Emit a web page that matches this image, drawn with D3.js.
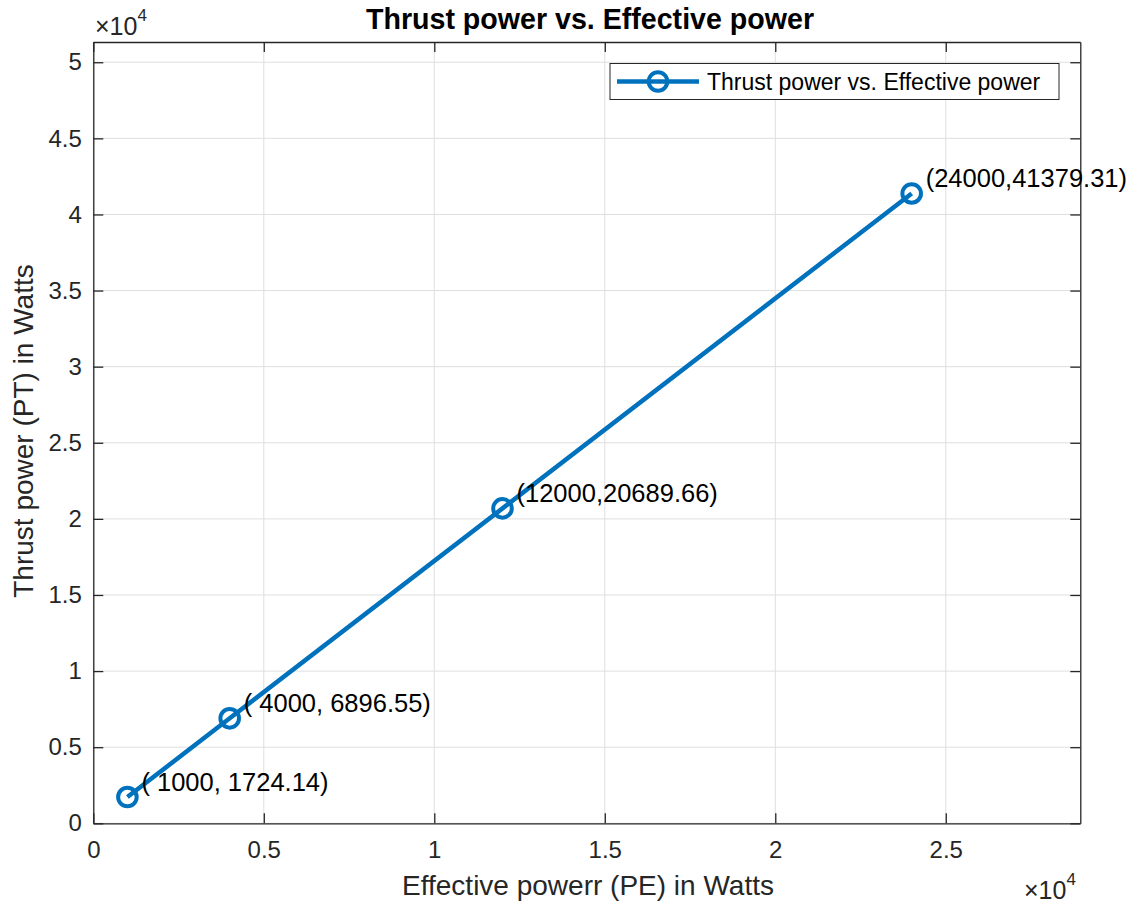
<!DOCTYPE html>
<html><head><meta charset="utf-8">
<script src="https://cdn.jsdelivr.net/npm/d3@7"></script>
<style>body{margin:0;background:#fff}svg{font-family:"Liberation Sans",Arial,sans-serif}</style>
</head><body><svg id="c" width="1132" height="903"></svg>
<script>
const xVals = [1000, 4000, 12000, 24000];
const yVals = [1724.14, 6896.55, 20689.66, 41379.31];
const pointLabels = ["( 1000, 1724.14)", "( 4000, 6896.55)", "(12000,20689.66)", "(24000,41379.31)"];
const xTicks = [0, 5000, 10000, 15000, 20000, 25000];
const yTicks = [0, 5000, 10000, 15000, 20000, 25000, 30000, 35000, 40000, 45000, 50000];
const title = "Thrust power vs. Effective power";
const xLabel = "Effective powerr (PE) in Watts";
const yLabel = "Thrust power (PT) in Watts";
const legendLabel = "Thrust power vs. Effective power";

const L = 93.3, R = 1080.3, T = 42, B = 823.3;
const x = d3.scaleLinear().domain([0, 28945]).range([L, R]);
const y = d3.scaleLinear().domain([0, 51330]).range([B, T]);
const svg = d3.select("#c");
const ax = "#262626", blue = "#0072BD";

// grid
svg.append("g").selectAll("line").data(xTicks).join("line")
  .attr("x1", d => x(d)).attr("x2", d => x(d)).attr("y1", T).attr("y2", B)
  .attr("stroke", "#dfdfdf").attr("stroke-width", 1);
svg.append("g").selectAll("line").data(yTicks).join("line")
  .attr("y1", d => y(d)).attr("y2", d => y(d)).attr("x1", L).attr("x2", R)
  .attr("stroke", "#dfdfdf").attr("stroke-width", 1);

const fmt = d => d3.format("")(d / 10000);
// axes
const xAxis = d3.axisBottom(x).tickValues(xTicks).tickFormat(fmt).tickSizeInner(-10).tickSizeOuter(0).tickPadding(17.5);
const yAxis = d3.axisLeft(y).tickValues(yTicks).tickFormat(fmt).tickSizeInner(-10).tickSizeOuter(0).tickPadding(11.5);
const gx = svg.append("g").attr("transform", `translate(0,${B})`).call(xAxis);
const gy = svg.append("g").attr("transform", `translate(${L},0)`).call(yAxis);
const gxt = svg.append("g").attr("transform", `translate(0,${T})`).call(d3.axisTop(x).tickValues(xTicks).tickFormat("").tickSizeInner(-10).tickSizeOuter(0));
const gyr = svg.append("g").attr("transform", `translate(${R},0)`).call(d3.axisRight(y).tickValues(yTicks).tickFormat("").tickSizeInner(-10).tickSizeOuter(0));
[gx, gy, gxt, gyr].forEach(g => {
  g.attr("font-family", null).attr("font-size", null);
  g.selectAll("path.domain").attr("stroke", ax).attr("stroke-width", 1.3);
  g.selectAll(".tick line").attr("stroke", ax).attr("stroke-width", 1.3);
  g.selectAll("text").attr("fill", ax).style("font-size", "24px");
});

// exponent labels
const e1 = svg.append("text").attr("x", 95).attr("y", 35).attr("fill", ax).style("font-size", "25px");
e1.append("tspan").text("\u00d710");
e1.append("tspan").attr("dy", -14).style("font-size", "17px").text("4");
const e2 = svg.append("text").attr("x", 1024).attr("y", 899).attr("fill", ax).style("font-size", "25px");
e2.append("tspan").text("\u00d710");
e2.append("tspan").attr("dy", -14).style("font-size", "17px").text("4");

// title and labels
svg.append("text").attr("x", 590).attr("y", 29).attr("text-anchor", "middle")
  .style("font-size", "28.6px").style("font-weight", "bold").attr("fill", "#000").text(title);
svg.append("text").attr("x", 588).attr("y", 895).attr("text-anchor", "middle")
  .style("font-size", "28px").attr("fill", ax).text(xLabel);
svg.append("text").attr("transform", `translate(33,431) rotate(-90)`).attr("text-anchor", "middle")
  .style("font-size", "28px").attr("fill", ax).text(yLabel);

// line + markers
const data = xVals.map((v, i) => ({x: v, y: yVals[i], label: pointLabels[i]}));
svg.append("path").datum(data).attr("fill", "none").attr("stroke", blue).attr("stroke-width", 4.5)
  .attr("d", d3.line().x(d => x(d.x)).y(d => y(d.y)));
svg.append("g").selectAll("circle").data(data).join("circle")
  .attr("cx", d => x(d.x)).attr("cy", d => y(d.y)).attr("r", 9.3)
  .attr("fill", "none").attr("stroke", blue).attr("stroke-width", 4);
svg.append("g").selectAll("text").data(data).join("text")
  .attr("x", d => x(d.x) + 14).attr("y", d => y(d.y) - 6)
  .style("font-size", "25.5px").attr("fill", "#000").text(d => d.label);

// legend
const lg = svg.append("g");
lg.append("rect").attr("x", 610).attr("y", 63.5).attr("width", 449).attr("height", 36)
  .attr("fill", "#fff").attr("stroke", ax).attr("stroke-width", 1);
lg.append("line").attr("x1", 617).attr("x2", 699).attr("y1", 81.5).attr("y2", 81.5)
  .attr("stroke", blue).attr("stroke-width", 4.5);
lg.append("circle").attr("cx", 658).attr("cy", 81.5).attr("r", 9.3).attr("fill", "none")
  .attr("stroke", blue).attr("stroke-width", 4);
lg.append("text").attr("x", 707).attr("y", 90).style("font-size", "23px").attr("fill", "#000").text(legendLabel);
</script></body></html>
